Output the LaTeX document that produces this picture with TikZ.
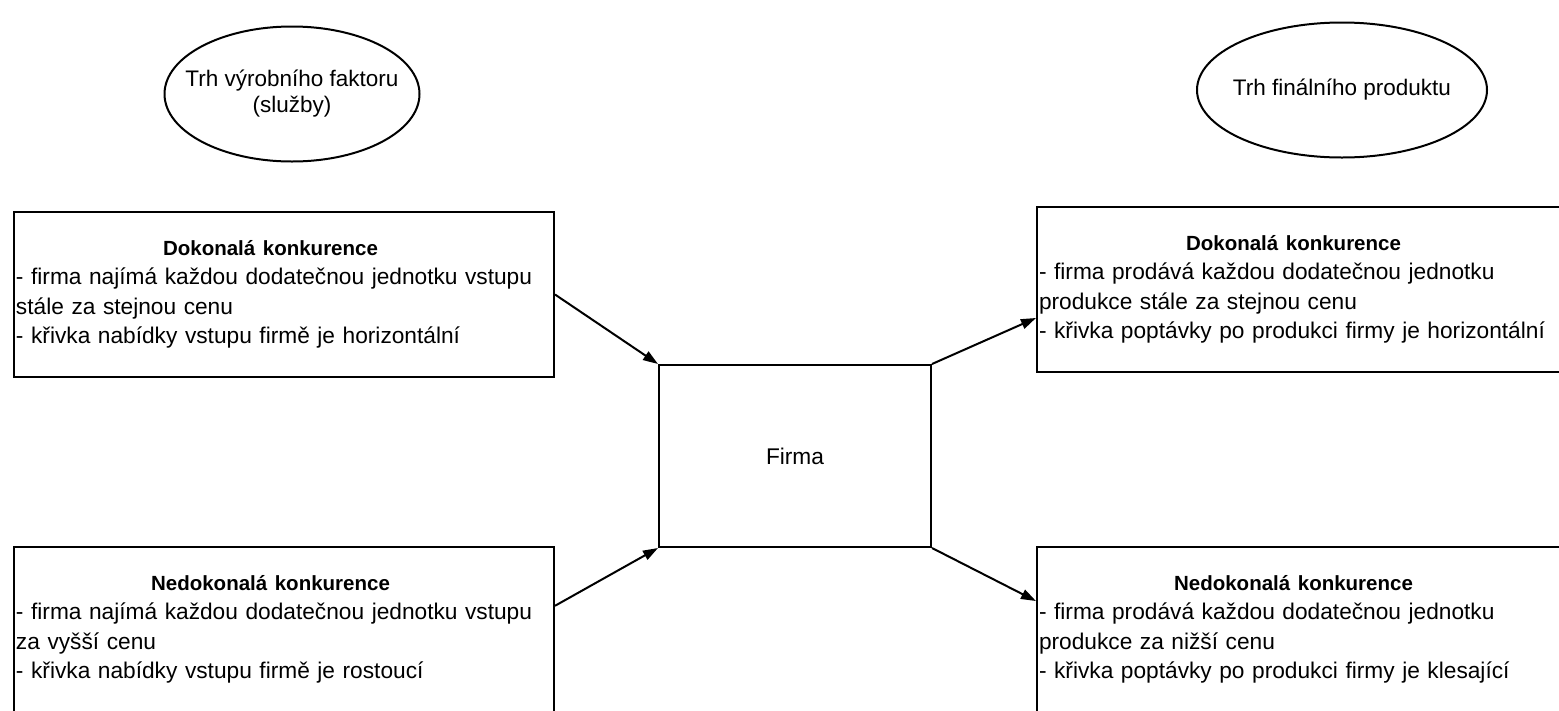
\documentclass[tikz,border=0pt]{standalone}
\usepackage{fontspec}
\setmainfont{Liberation Sans}
\usetikzlibrary{arrows.meta,shapes.geometric}
\begin{document}
\begin{tikzpicture}[x=1pt,y=-1pt,
  txt/.style={font=\fontsize{22.7}{29.5}\selectfont},
  infobox/.style={draw, line width=2pt, minimum width=540pt, minimum height=165pt,
    text width=536pt, inner xsep=2pt, inner ysep=0pt, align=left, txt},
  mkt/.style={draw, ellipse, line width=2pt, inner sep=0pt},
  mktlabel/.style={align=center, font=\fontsize{22.5}{26}\selectfont},
  firmbox/.style={draw, line width=2pt, minimum width=272pt, minimum height=182pt, txt},
  arr/.style={line width=2pt, -{Triangle[length=15pt,width=10pt]}}]
\useasboundingbox (0,0) rectangle (1559,710);
\node[mkt, minimum width=255pt, minimum height=135pt,
  label={[mktlabel]center:Trh výrobního faktoru\\(služby)}] (fm1) at (292,94) {};
\node[mkt, minimum width=290pt, minimum height=135pt,
  label={[mktlabel]center:Trh finálního produktu}] (fm2) at (1342,90) {};
\node[infobox] (tl) at (284,294.5) {\makebox[509pt][c]{\fontsize{20.5}{29.5}\selectfont\bfseries Dokonalá konkurence}\\- firma najímá každou dodatečnou jednotku vstupu\\stále za stejnou cenu\\- křivka nabídky vstupu firmě je horizontální};
\node[infobox] (bl) at (284,629.5) {\makebox[509pt][c]{\fontsize{20.5}{29.5}\selectfont\bfseries Nedokonalá konkurence}\\- firma najímá každou dodatečnou jednotku vstupu\\za vyšší cenu\\- křivka nabídky vstupu firmě je rostoucí};
\node[infobox] (tr) at (1307,289.5) {\makebox[509pt][c]{\fontsize{20.5}{29.5}\selectfont\bfseries Dokonalá konkurence}\\- firma prodává každou dodatečnou jednotku\\produkce stále za stejnou cenu\\- křivka poptávky po produkci firmy je horizontální};
\node[infobox] (br) at (1307,629.5) {\makebox[509pt][c]{\fontsize{20.5}{29.5}\selectfont\bfseries Nedokonalá konkurence}\\- firma prodává každou dodatečnou jednotku\\produkce za nižší cenu\\- křivka poptávky po produkci firmy je klesající};
\node[firmbox] (firm) at (795,456) {Firma};
\draw[arr] (tl.east) -- (firm.north west);
\draw[arr] (bl.5.8) -- (firm.south west);
\draw[arr] (firm.north east) -- (tr.186.9);
\draw[arr] (firm.south east) -- (br.174.4);
\end{tikzpicture}
\end{document}
